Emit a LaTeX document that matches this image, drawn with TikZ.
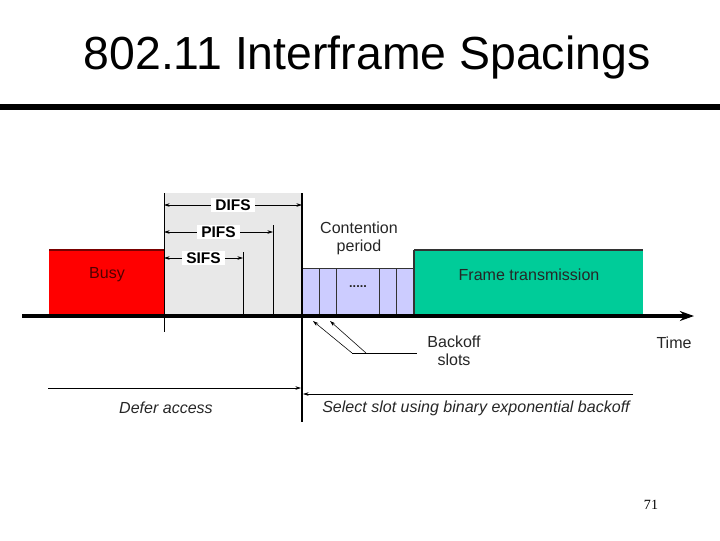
\documentclass[tikz,border=0pt]{standalone}
\usepackage{fontspec}
\setmainfont{Liberation Sans}
\newfontfamily\numfont{Liberation Serif}
\usetikzlibrary{arrows.meta}
\definecolor{busyred}{HTML}{FF0000}
\definecolor{busytext}{HTML}{500000}
\definecolor{edgered}{HTML}{7A0000}
\definecolor{ifsgray}{HTML}{E8E8E8}
\definecolor{slotblue}{HTML}{CCCCFF}
\definecolor{framegreen}{HTML}{00CC99}

\tikzset{
  lbl/.style={font=\fontsize{11.4}{13}\selectfont, text=black!85, inner sep=1pt},
  ifslbl/.style={font=\bfseries\fontsize{11}{12}\selectfont, fill=white, inner xsep=3pt, inner ysep=1pt},
  ifsarrow/.style={thin, {Stealth[length=4pt,width=2.5pt]}-{Stealth[length=4pt,width=2.5pt]}},
  slotarrow/.style={thin, -{Stealth[length=4pt,width=2.5pt]}}
}

\begin{document}
\begin{tikzpicture}[x=0.025cm,y=-0.025cm]
\useasboundingbox (0,0) rectangle (720,540);

% title and rule
\node (title) at (367,57) {\fontsize{33}{38}\selectfont 802.11 Interframe Spacings};
\draw[line width=4.3pt] (0,107) -- (720,107);

% key instants
\coordinate (A) at (164,193);
\coordinate (B) at (302,193);
\coordinate (S) at (243,252);
\coordinate (P) at (273,225);

% backgrounds
\fill[ifsgray] (A) rectangle (302,316);
\fill[busyred] (49,250) rectangle (164,316);
\draw[edgered,line width=1.2pt] (49,250) -- (164,250);
\fill[slotblue] (302,268) rectangle (414,316);
\draw[black!80,thin] (302,268) -- (414,268);
\foreach \x in {319,336,379,396}
  \draw[black!80,thin] (\x,268) -- (\x,316);
\fill[framegreen] (414,250) rectangle (643,316);
\draw[black!80,line width=0.8pt] (414,250) -- (643,250) (414,250) -- (414,316);

% box texts
\node[lbl, text=busytext] (busy) at (107,275) {Busy};
\node[lbl] (frame) at (529,275) {Frame transmission};
\node[lbl, font=\bfseries\fontsize{9}{10}\selectfont] (dots) at (358,287) {.....};
\node[lbl, align=center] (cont) at (359,238) {Contention\\period};

% spacing marks
\draw[thin] (A) -- (164,332);
\draw[thin] (S) -- (243,316);
\draw[thin] (P) -- (273,316);
\draw[line width=1.6pt] (B) -- (302,422);
\draw[ifsarrow] (164,205) -- (302,205) node[ifslbl, pos=0.5] (difs) {DIFS};
\draw[ifsarrow] (164,232) -- (273,232) node[ifslbl, pos=0.5] (pifs) {PIFS};
\draw[ifsarrow] (164,258) -- (243,258) node[ifslbl, pos=0.5] (sifs) {SIFS};

% time axis
\coordinate (T0) at (22,316);
\coordinate (T1) at (694,316);
\draw[line width=2.5pt, -{Stealth[length=10pt,width=7pt]}] (T0) -- (T1);
\node[lbl] (time) at (674,343) {Time};

% backoff slots
\node[lbl, align=center] (slots) at (454,351) {Backoff\\slots};
\coordinate (K0) at (352,353);
\coordinate (K1) at (366,353);
\draw[thin] (K0) -- (417,353);
\draw[slotarrow] (K0) -- (313,321);
\draw[slotarrow] (K1) -- (330,321);

% defer / select
\draw[thin, -{Stealth[length=4pt,width=2.5pt]}] (48,388) -- (301,388);
\draw[thin, -{Stealth[length=4pt,width=2.5pt]}] (633,394) -- (303,394);
\node[lbl, font=\itshape\fontsize{11.4}{13}\selectfont] (defer) at (166,408) {Defer access};
\node[lbl, font=\itshape\fontsize{11.4}{13}\selectfont] (select) at (476,408) {Select slot using binary exponential backoff};

% page number
\node[font=\numfont\fontsize{10}{12}\selectfont] (page) at (651,505) {71};
\end{tikzpicture}
\end{document}
